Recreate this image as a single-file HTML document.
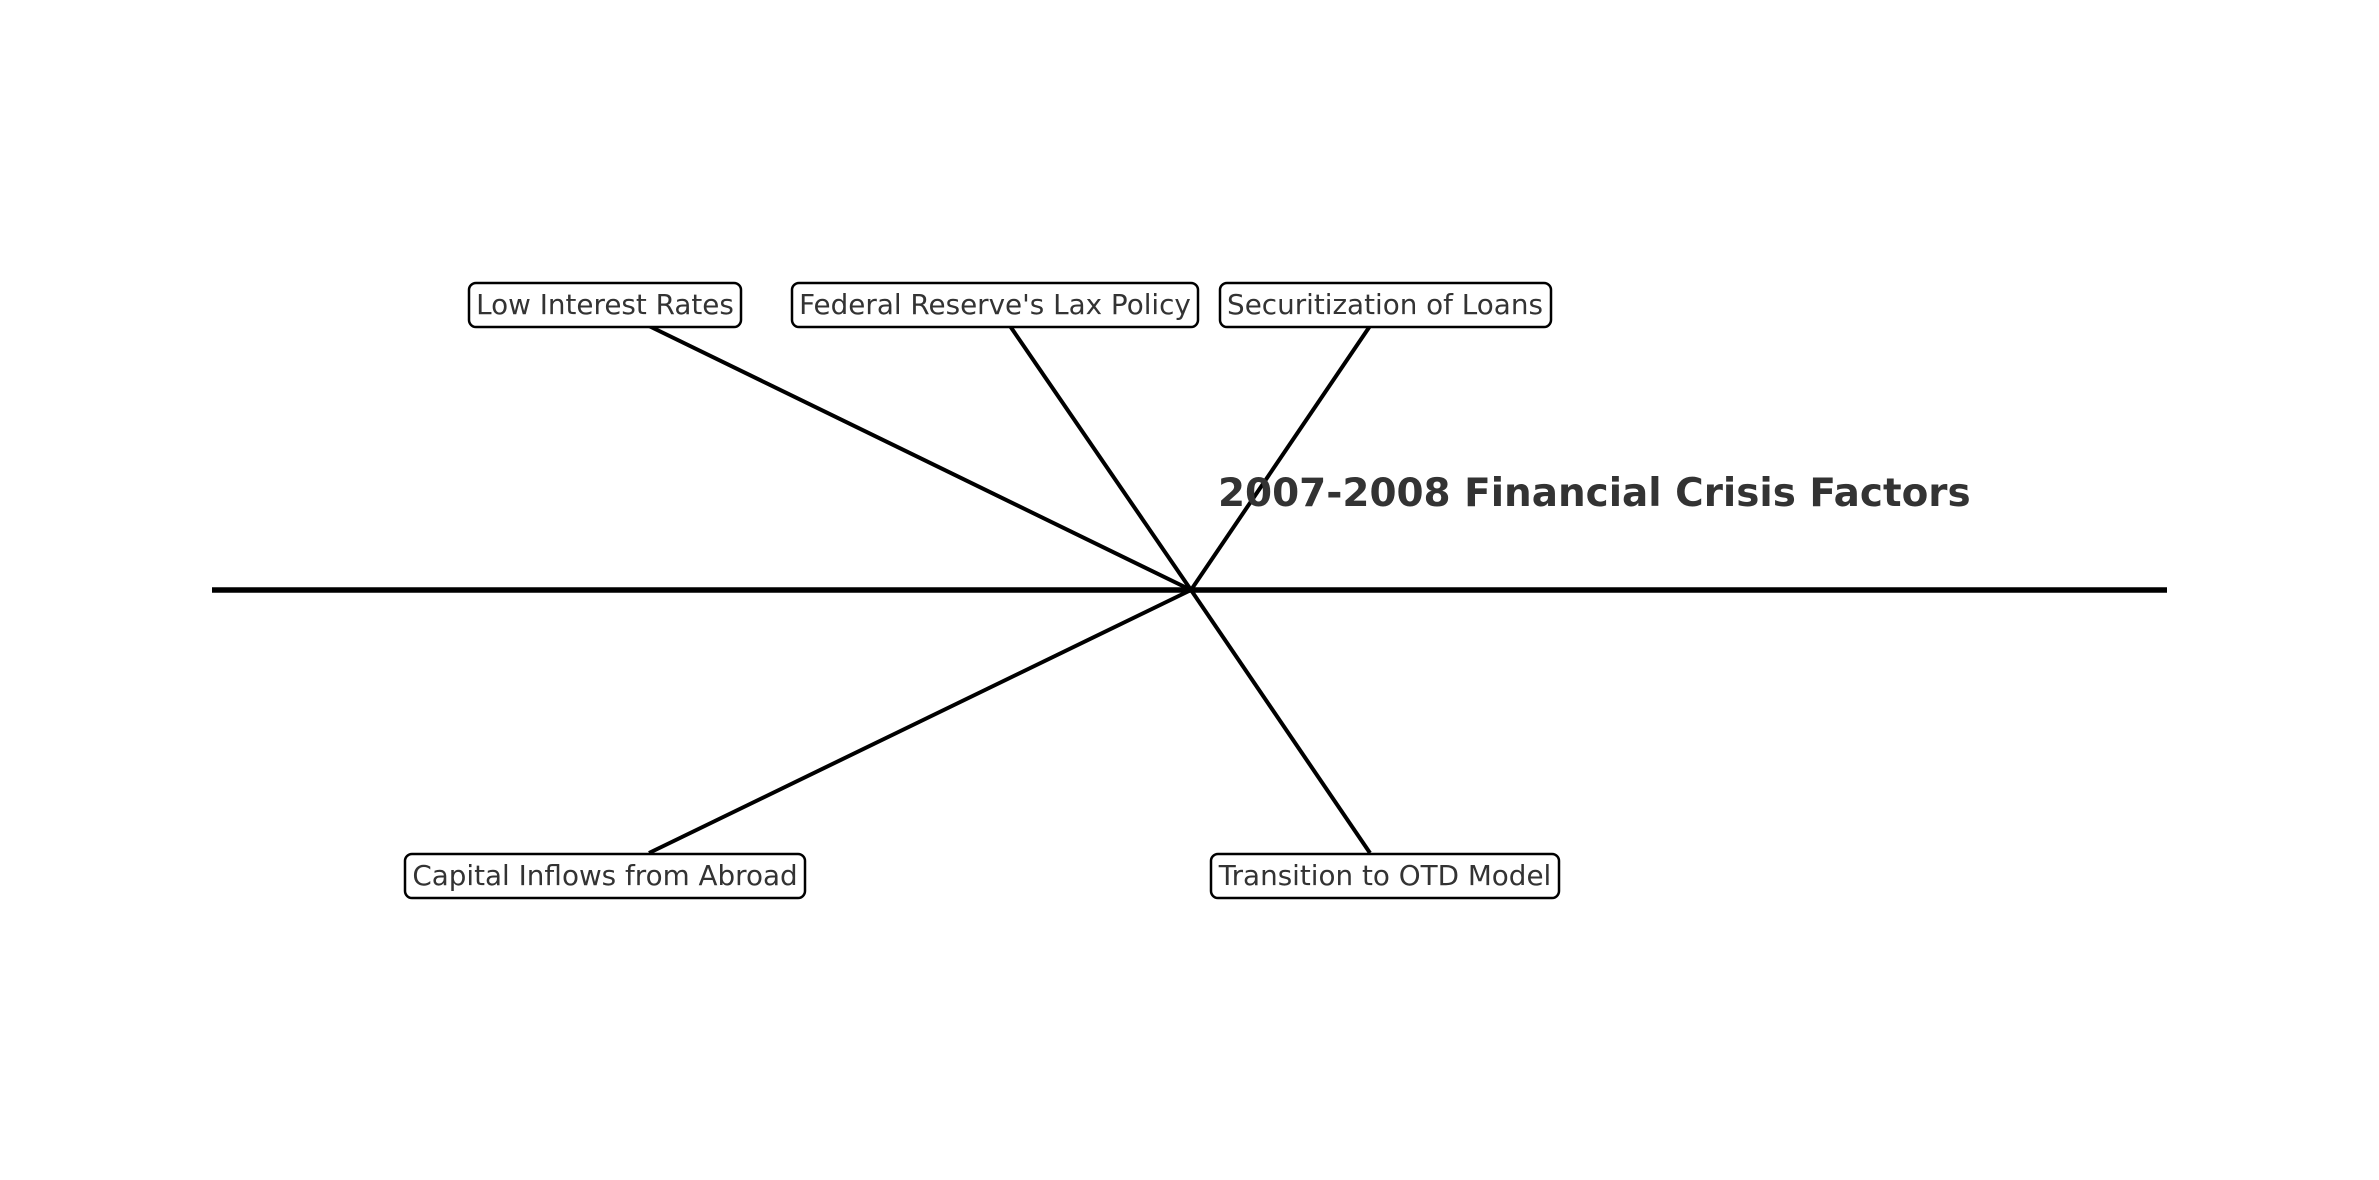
<!DOCTYPE html>
<html><head><style>
html,body{margin:0;padding:0;background:#fff;}
svg{display:block;}
</style></head><body>
<svg width="2379" height="1180" viewBox="0 0 2379 1180" xmlns="http://www.w3.org/2000/svg">
<rect width="2379" height="1180" fill="#fff"/>
<line x1="212" y1="590" x2="2167" y2="590" stroke="#000" stroke-width="5.5"/>
<g stroke="#000" stroke-width="4">
<line x1="1191" y1="590" x2="649" y2="326"/>
<line x1="1191" y1="590" x2="1010" y2="326"/>
<line x1="1191" y1="590" x2="1370" y2="326"/>
<line x1="1191" y1="590" x2="649" y2="853"/>
<line x1="1191" y1="590" x2="1370" y2="853"/>
</g>
<g fill="#fff" stroke="#000" stroke-width="2.5">
<rect x="469" y="283" width="272" height="44" rx="7"/>
<rect x="792" y="283" width="406" height="44" rx="7"/>
<rect x="1220" y="283" width="331" height="44" rx="7"/>
<rect x="405" y="854" width="400" height="44" rx="7"/>
<rect x="1211" y="854" width="348" height="44" rx="7"/>
</g>
<g font-family="DejaVu Sans, Liberation Sans, sans-serif" font-size="27.8" fill="#333" text-anchor="middle">
<text x="605" y="314">Low Interest Rates</text>
<text x="995" y="314">Federal Reserve's Lax Policy</text>
<text x="1385" y="314">Securitization of Loans</text>
<text x="605" y="885">Capital Inflows from Abroad</text>
<text x="1385" y="885">Transition to OTD Model</text>
</g>
<text x="1218" y="506" font-family="DejaVu Sans, Liberation Sans, sans-serif" font-size="38.9" font-weight="bold" fill="#333">2007-2008 Financial Crisis Factors</text>
</svg>
</body></html>
